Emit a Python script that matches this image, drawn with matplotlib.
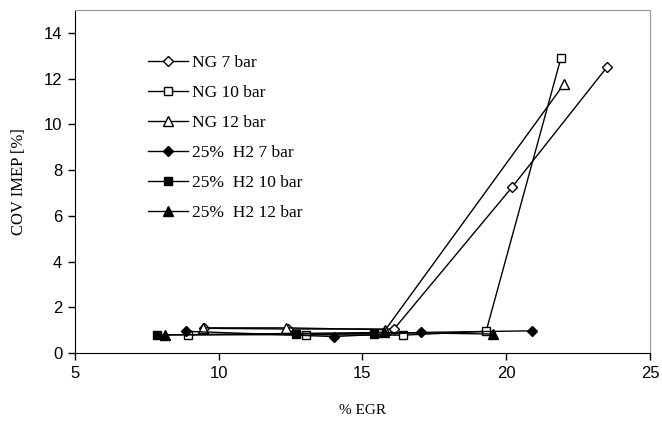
import matplotlib
matplotlib.use("Agg")
from matplotlib import pyplot as plt

# % EGR / COV IMEP values
ng7_x = [9.5, 12.4, 16.1, 20.2, 23.5]
ng7_y = [1.08, 1.05, 1.05, 7.25, 12.5]
ng10_x = [8.95, 13.05, 16.4, 19.3, 21.9]
ng10_y = [0.8, 0.8, 0.78, 0.95, 12.9]
ng12_x = [9.45, 12.35, 15.8, 22.0]
ng12_y = [1.1, 1.1, 1.02, 11.75]
h2_7_x = [8.85, 14.0, 17.05, 20.9]
h2_7_y = [0.95, 0.72, 0.9, 0.97]
h2_10_x = [7.85, 12.7, 15.4]
h2_10_y = [0.79, 0.83, 0.85]
h2_12_x = [8.15, 15.75, 19.55]
h2_12_y = [0.79, 0.9, 0.83]

series = [
    (ng7_x, ng7_y, "NG 7 bar", "D", "white", 5.2),
    (ng10_x, ng10_y, "NG 10 bar", "s", "white", 6),
    (ng12_x, ng12_y, "NG 12 bar", "^", "white", 6.8),
    (h2_7_x, h2_7_y, "25%  H2 7 bar", "D", "black", 5.2),
    (h2_10_x, h2_10_y, "25%  H2 10 bar", "s", "black", 6),
    (h2_12_x, h2_12_y, "25%  H2 12 bar", "^", "black", 6.8),
]

fig = plt.figure(figsize=(6.62, 4.25), dpi=100)
ax = fig.add_axes([0.113, 0.1694, 0.869, 0.807])

for x, y, label, m, fc, ms in series:
    ax.plot(x, y, color="black", lw=1, marker=m, markersize=ms,
            markerfacecolor=fc, markeredgecolor="black", markeredgewidth=1,
            label=label)

ax.set_xlim(5, 25)
ax.set_ylim(0, 15)
ax.set_xticks([5, 10, 15, 20, 25])
ax.set_yticks(range(0, 15, 2))
ax.tick_params(direction="out", length=5, width=1, labelsize=12, pad=4)
for lab in ax.get_xticklabels() + ax.get_yticklabels():
    lab.set_fontfamily("Liberation Sans")

ax.spines["top"].set_color("#999999")
ax.spines["right"].set_color("#999999")
ax.set_xlabel("% EGR", family="Liberation Serif", fontsize=11, labelpad=17)
ax.set_ylabel("COV IMEP [%]", family="Liberation Serif", fontsize=12, labelpad=12)

ax.legend(loc="upper left", bbox_to_anchor=(0.1, 0.915), frameon=False,
          prop={"family": "Liberation Serif", "size": 12.5},
          handlelength=2.3, handletextpad=0.25, labelspacing=0.8)

fig.savefig("out.png", dpi=100)
